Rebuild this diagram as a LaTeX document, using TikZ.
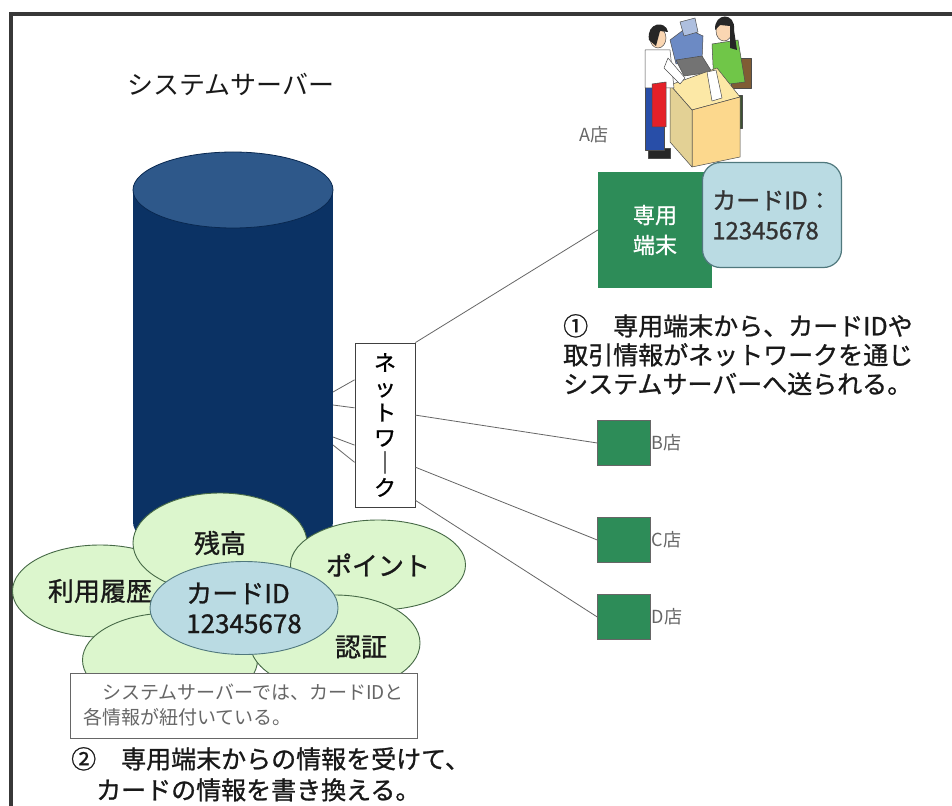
\documentclass[tikz,border=0pt]{standalone}
\usepackage{fontspec}
\setmainfont{Noto Sans CJK JP}
\newfontfamily\heavy[FakeBold=1]{Noto Sans CJK JP}
\usetikzlibrary{calc}
\usetikzlibrary{shapes.geometric}

\definecolor{srvbody}{RGB}{11,50,100}
\definecolor{srvtop}{RGB}{46,88,138}
\definecolor{leaf}{RGB}{220,246,205}
\definecolor{leafedge}{RGB}{70,105,70}
\definecolor{cardblue}{RGB}{186,219,227}
\definecolor{cardedge}{RGB}{80,120,125}
\definecolor{termgreen}{RGB}{45,140,88}
\definecolor{skin}{RGB}{250,214,178}
\definecolor{apron}{RGB}{228,32,40}
\definecolor{jeans}{RGB}{40,78,168}
\definecolor{shirt}{RGB}{112,198,72}
\definecolor{slacks}{RGB}{60,82,50}
\definecolor{bag}{RGB}{128,92,52}
\definecolor{desk}{RGB}{252,232,166}
\definecolor{till}{RGB}{108,138,196}

\tikzset{
  txt/.style={inner sep=1pt,text=black!90},
  big/.style={font=\heavy\fontsize{25}{29}\selectfont},
  info/.style={ellipse,draw=leafedge,fill=leaf,line width=0.9pt,inner sep=0pt,
    font=\heavy\fontsize{26}{30}\selectfont,text=black!90},
  shop/.style={draw=black!60,fill=termgreen,minimum width=53,minimum height=45,inner sep=0pt},
  shoplabel/.style={right,inner sep=1pt,text=black!60,font=\fontsize{18}{20}\selectfont},
  wire/.style={draw=black!60,line width=0.8pt},
  artline/.style={draw=black!70,line width=0.5pt,line join=round},
}

\begin{document}
\begin{tikzpicture}[x=1pt,y=-1pt]
	\useasboundingbox (0,0) rectangle (952,805);
	\clip (0,0) rectangle (952,805);
	\fill[white] (0,0) rectangle (952,805);
	% outer frame, runs off to the right and bottom
	\draw[black!78,line width=4pt] (960,14) -- (10.5,14) -- (10.5,815);

	% server cylinder
	\fill[srvbody] (133,190) rectangle (333,522);
	\fill[srvbody] (233,522) ellipse[x radius=100,y radius=38];
	\filldraw[fill=srvtop,draw=srvbody!80!black,line width=0.8pt] (233,190) ellipse[x radius=100,y radius=38];
	\node[txt,font=\fontsize{26}{30}\selectfont] (srvtitle) at (231,84) {システムサーバー};
	\coordinate (s1) at (333,392);
	\coordinate (s2) at (333,405);
	\coordinate (s3) at (333,437);
	\coordinate (s4) at (333,445);

	% counter with clerk and customer
	\begin{scope}[artline]
		\filldraw[fill=slacks] (730,95) rectangle (742,128);
		\filldraw[fill=bag] (731,58) rectangle (751,88);
		\filldraw[fill=shirt] (712,44) -- (738,40) -- (745,82) -- (714,86) -- cycle;
		\filldraw[fill=skin] (724,31) ellipse[x radius=8,y radius=10];
		\fill[black!85] (715,30) .. controls (714,12) and (736,12) .. (734,30) -- (737,50) -- (730,48) -- (730,26) -- (720,25) -- cycle;
		\filldraw[fill=till] (670,40) -- (686,28) -- (703,36) -- (702,60) -- (676,64) -- cycle;
		\filldraw[fill=till!55!white] (680,22) -- (695,18) -- (698,32) -- (684,36) -- cycle;
		\filldraw[fill=black!55] (676,60) -- (702,56) -- (712,72) -- (684,76) -- cycle;
		\filldraw[fill=desk] (670,85) -- (717,68) -- (740,97) -- (692,110) -- cycle;
		\filldraw[fill=desk!85!orange] (692,110) -- (740,97) -- (740,157) -- (692,167) -- cycle;
		\filldraw[fill=desk!90!black] (670,85) -- (692,110) -- (692,167) -- (670,142) -- cycle;
		\filldraw[fill=white] (707,72) -- (716,70) -- (722,98) -- (712,101) -- cycle;
		\filldraw[fill=black!85] (648,148) rectangle (670,158);
		\filldraw[fill=jeans] (645,87) rectangle (664,150);
		\filldraw[fill=white] (645,50) -- (670,50) -- (674,88) -- (645,88) -- cycle;
		\filldraw[fill=apron] (652,84) -- (666,82) -- (666,127) -- (652,127) -- cycle;
		\filldraw[fill=white] (668,58) -- (685,78) -- (680,84) -- (664,68) -- cycle;
		\filldraw[fill=skin] (658,38) ellipse[x radius=8,y radius=10];
		\fill[black!85] (649,40) .. controls (646,22) and (666,20) .. (668,32) -- (660,31) -- (656,46) -- cycle;
	\end{scope}

	% shops
	\node[txt,text=black!60,font=\fontsize{18}{20}\selectfont] (shopAlbl) at (594,135) {A店};
	\node[fill=termgreen,minimum width=114,minimum height=115,inner sep=0pt,text=white,align=center,font=\heavy\fontsize{22}{30}\selectfont] (termA) at (655,230) {専用\\端末};
	\node[draw=cardedge,fill=cardblue,rounded corners=18,line width=1.2pt,minimum width=139,minimum height=105,align=left,font=\heavy\fontsize{24}{30}\selectfont,text=black!80] (cardA) at (772,215) {カードID：\\12345678};
	\node[shop] (shopB) at (624,443) {};
	\node[shop] (shopC) at (624,540) {};
	\node[shop] (shopD) at (624,617) {};
	\node[shoplabel] at (shopB.east) {B店};
	\node[shoplabel] at (shopC.east) {C店};
	\node[shoplabel] at (shopD.east) {D店};

	% network
	\node[draw=black!75,fill=white,line width=0.9pt,minimum width=60,minimum height=164,inner sep=0pt,align=center,font=\heavy\fontsize{22}{25}\selectfont] (net) at (385,425) {ネ\\ッ\\ト\\ワ\\｜\\ク};
	\draw[wire] (s1) -- ($(net.north west)!0.226!(net.south west)$);
	\draw[wire] (s2) -- ($(net.north west)!0.396!(net.south west)$);
	\draw[wire] (s3) -- ($(net.north west)!0.622!(net.south west)$);
	\draw[wire] (s4) -- ($(net.north west)!0.726!(net.south west)$);
	\draw[wire] (net.north east) -- (termA.west);
	\draw[wire] ($(net.north east)!0.44!(net.south east)$) -- (shopB.west);
	\draw[wire] ($(net.north east)!0.756!(net.south east)$) -- (shopC.west);
	\draw[wire] ($(net.north east)!0.957!(net.south east)$) -- (shopD.west);

	\node[txt,big,align=left,anchor=north west] (step1) at (562,313) {①　専用端末から、カードIDや\\取引情報がネットワークを通じ\\システムサーバーへ送られる。};

	% data linked to the card
	\node[info,minimum width=175,minimum height=92] (history) at (100,591) {利用履歴};
	\node[info,minimum width=174,minimum height=100] (balance) at (220,543) {残高};
	\node[info,minimum width=175,minimum height=90] (points) at (378,565) {ポイント};
	\node[info,minimum width=175,minimum height=94] (spare) at (170,660) {};
	\node[info,minimum width=170,minimum height=96] (auth) at (335,643) {};
	\node[txt,font=\heavy\fontsize{26}{30}\selectfont] (authtxt) at (361,647) {認証};
	\node[info,fill=cardblue,draw=cardedge,minimum width=188,minimum height=93,align=left] (cardid) at (244,608) {カードID\\12345678};

	\node[draw=black!60,fill=white,line width=0.9pt,minimum width=347,minimum height=65,inner sep=0pt,align=left,text=black!60,font=\fontsize{19}{25}\selectfont] (note) at (243.5,705.5) {　システムサーバーでは、カードIDと\\各情報が紐付いている。};
	\node[txt,align=left,anchor=north west,font=\heavy\fontsize{25}{31}\selectfont] (step2) at (70,746) {②　専用端末からの情報を受けて、\\　カードの情報を書き換える。};
\end{tikzpicture}
\end{document}
